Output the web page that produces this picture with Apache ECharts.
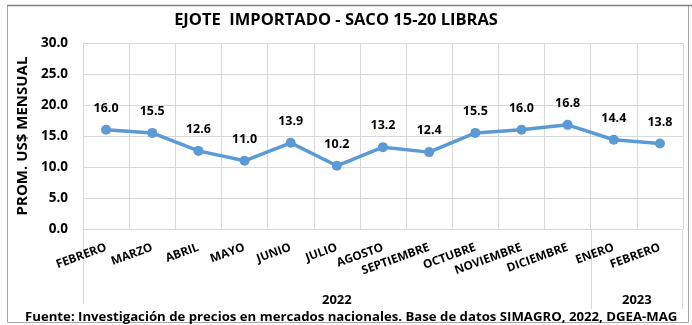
<!DOCTYPE html>
<html>
<head>
<meta charset="utf-8">
<script src="https://cdn.jsdelivr.net/npm/echarts@6/dist/echarts.min.js"></script>
<style>
  html, body { margin: 0; padding: 0; background: #fff; }
  #chart { width: 692px; height: 325px; }
</style>
</head>
<body>
<div id="chart"></div>
<script>
// Monthly average price, imported green beans (15-20 lb sack)
const months = ['FEBRERO', 'MARZO', 'ABRIL', 'MAYO', 'JUNIO', 'JULIO', 'AGOSTO',
  'SEPTIEMBRE', 'OCTUBRE', 'NOVIEMBRE', 'DICIEMBRE', 'ENERO', 'FEBRERO'];
const prices = [16.0, 15.5, 12.6, 11.0, 13.9, 10.2, 13.2, 12.4, 15.5, 16.0, 16.8, 14.4, 13.8];
// Year groups under the month labels: label and number of months in each
const yearLabels = ['2022', '2023'];
const yearCounts = [11, 2];
const yTicks = [0, 5, 10, 15, 20, 25, 30];

const FONT = '"Open Sans", "Noto Sans", sans-serif';
const GRID = '#d9d9d9';

const chart = echarts.init(document.getElementById('chart'), null, { renderer: 'canvas' });

const option = {
  animation: false,
  backgroundColor: '#fff',
  textStyle: { fontFamily: FONT },
  grid: { left: 83, right: 9, top: 43, bottom: 96, containLabel: false },
  xAxis: {
    type: 'category',
    data: months.map((m, i) => ({ value: m + '#' + i, label: m })),
    boundaryGap: true,
    axisLine: { show: true, lineStyle: { color: GRID, width: 1 } },
    axisTick: { show: false },
    splitLine: { show: true, interval: 0, lineStyle: { color: GRID, width: 1 } },
    axisLabel: {
      interval: 0,
      rotate: 20,
      margin: 18,
      color: '#000',
      fontFamily: FONT,
      fontWeight: 'bold',
      fontSize: 11.8,
      formatter: v => v.split('#')[0]
    }
  },
  yAxis: {
    type: 'value',
    min: yTicks[0],
    max: yTicks[yTicks.length - 1],
    interval: 5,
    name: 'PROM. US$ MENSUAL',
    nameLocation: 'middle',
    nameGap: 49,
    nameRotate: 90,
    nameTextStyle: { color: '#000', fontFamily: FONT, fontWeight: 'bold', fontSize: 15 },
    axisLine: { show: true, lineStyle: { color: GRID } },
    axisTick: { show: false },
    splitLine: { show: true, lineStyle: { color: GRID, width: 1 } },
    axisLabel: {
      margin: 15,
      color: '#000',
      fontFamily: FONT,
      fontWeight: 'bold',
      fontSize: 13.5,
      formatter: v => v.toFixed(1)
    }
  },
  series: [{
    type: 'line',
    data: prices,
    symbol: 'circle',
    symbolSize: 10,
    lineStyle: { color: '#5B9BD5', width: 3.5 },
    itemStyle: { color: '#5B9BD5' },
    label: {
      show: true,
      position: 'top',
      distance: 10,
      color: '#000',
      fontFamily: FONT,
      fontWeight: 'bold',
      fontSize: 12.5,
      formatter: p => p.value.toFixed(1)
    }
  }],
  graphic: []
};

chart.setOption(option);

// Frame, title, year groups and source note, placed from the axis scale
const x0 = chart.convertToPixel({ xAxisIndex: 0 }, 0);
const x1 = chart.convertToPixel({ xAxisIndex: 0 }, 1);
const step = x1 - x0;
const axisY = chart.convertToPixel({ yAxisIndex: 0 }, 0);

const g = [
  { type: 'rect', shape: { x: 7.5, y: 5.5, width: 681, height: 317 }, style: { fill: 'none', stroke: '#a6a6a6', lineWidth: 1 }, z: 0 },
  { type: 'line', shape: { x1: 7, y1: 5.5, x2: 692, y2: 5.5 }, style: { stroke: '#7f7f7f', lineWidth: 1.5 }, z: 1 },
  {
    type: 'text', x: 336, y: 20,
    style: { text: 'EJOTE  IMPORTADO - SACO 15-20 LIBRAS', fill: '#000', font: 'bold 16.5px ' + FONT, textAlign: 'center', textVerticalAlign: 'middle' }
  },
  {
    type: 'text', x: 25, y: 317,
    style: { text: 'Fuente: Investigación de precios en mercados nacionales. Base de datos SIMAGRO, 2022, DGEA-MAG', fill: '#000', font: 'bold 13.2px ' + FONT, textAlign: 'left', textVerticalAlign: 'middle' }
  }
];

// Group dividers below the month labels (left edge of each year, plus the far right)
let start = 0;
const divEnds = [304, 309, 309];
yearLabels.forEach((lab, k) => {
  const left = x0 - step / 2 + start * step;
  const right = left + yearCounts[k] * step;
  g.push({ type: 'line', shape: { x1: Math.round(left) + 0.5, y1: axisY, x2: Math.round(left) + 0.5, y2: divEnds[k] }, style: { stroke: GRID, lineWidth: 1 } });
  if (k === yearLabels.length - 1) {
    g.push({ type: 'line', shape: { x1: Math.round(right) - 0.5, y1: axisY, x2: Math.round(right) - 0.5, y2: divEnds[k + 1] }, style: { stroke: GRID, lineWidth: 1 } });
  }
  g.push({
    type: 'text', x: (left + right) / 2, y: 300,
    style: { text: lab, fill: '#000', font: 'bold 13px ' + FONT, textAlign: 'center', textVerticalAlign: 'middle' }
  });
  start += yearCounts[k];
});

chart.setOption({ graphic: g });
</script>
</body>
</html>
